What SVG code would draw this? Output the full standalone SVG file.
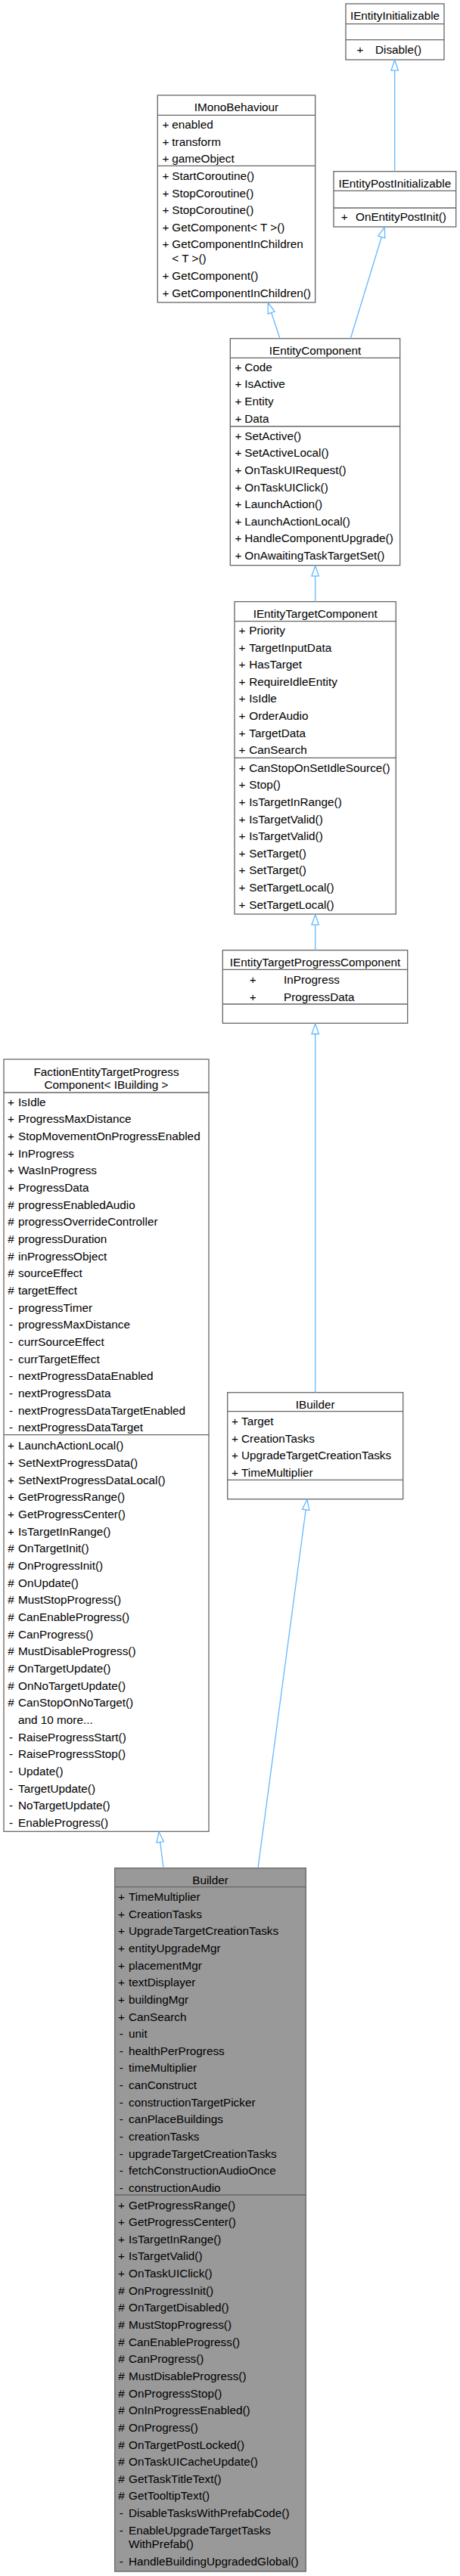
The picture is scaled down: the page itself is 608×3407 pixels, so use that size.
<svg xmlns="http://www.w3.org/2000/svg" width="608" height="3407" viewBox="0 0 608 3407">
<style>
.box{fill:#fff;stroke:#666;stroke-width:1.3}
.hl{fill:#999;stroke:#666;stroke-width:1.3}
.sep{stroke:#666;stroke-width:1.3}
text{font-family:"Liberation Sans",Arial,sans-serif;font-size:15.3px;fill:#000}
.c{text-anchor:middle}
.edge{stroke:#63B8FF;stroke-width:1.3;fill:none;marker-start:url(#inh)}
</style>
<defs>
<marker id="inh" viewBox="-1 -6 16 12" refX="0" refY="0" markerWidth="16" markerHeight="12" markerUnits="userSpaceOnUse" orient="auto" overflow="visible">
<path d="M0,0 L13.7,-4.7 L13.7,4.7 Z" fill="#fff" stroke="#63B8FF" stroke-width="1.3"/>
</marker>
</defs>

<g id="IEntityInitializable">
<rect x="457" y="5" width="130" height="74" class="box"/>
<line x1="457" y1="31.7" x2="587" y2="31.7" class="sep"/>
<line x1="457" y1="52.7" x2="587" y2="52.7" class="sep"/>
<text x="522" y="26" class="c">IEntityInitializable</text>
<text x="476" y="71.3" class="c">+</text><text x="496" y="71.3">Disable()</text>
</g>

<g id="IEntityPostInitializable">
<rect x="441" y="226.7" width="161.7" height="73.3" class="box"/>
<line x1="441" y1="252.3" x2="602.7" y2="252.3" class="sep"/>
<line x1="441" y1="275" x2="602.7" y2="275" class="sep"/>
<text x="521.8" y="247.7" class="c">IEntityPostInitializable</text>
<text x="455.3" y="292" class="c">+</text><text x="470" y="292">OnEntityPostInit()</text>
</g>

<g id="IMonoBehaviour">
<rect x="208.3" y="126" width="208.4" height="274" class="box"/>
<line x1="208.3" y1="152.3" x2="416.7" y2="152.3" class="sep"/>
<line x1="208.3" y1="219.3" x2="416.7" y2="219.3" class="sep"/>
<text x="312.5" y="147.3" class="c">IMonoBehaviour</text>
<text x="219" y="170" class="c">+</text><text x="227.3" y="170">enabled</text>
<text x="219" y="192.6" class="c">+</text><text x="227.3" y="192.6">transform</text>
<text x="219" y="215.2" class="c">+</text><text x="227.3" y="215.2">gameObject</text>
<text x="219" y="238" class="c">+</text><text x="227.3" y="238">StartCoroutine()</text>
<text x="219" y="260.6" class="c">+</text><text x="227.3" y="260.6">StopCoroutine()</text>
<text x="219" y="283.2" class="c">+</text><text x="227.3" y="283.2">StopCoroutine()</text>
<text x="219" y="305.8" class="c">+</text><text x="227.3" y="305.8">GetComponent&lt; T &gt;()</text>
<text x="219" y="328.4" class="c">+</text><text x="227.3" y="328.4">GetComponentInChildren</text>
<text x="227.3" y="347.4">&lt; T &gt;()</text>
<text x="219" y="370" class="c">+</text><text x="227.3" y="370">GetComponent()</text>
<text x="219" y="392.6" class="c">+</text><text x="227.3" y="392.6">GetComponentInChildren()</text>
</g>

<g id="IEntityComponent">
<rect x="304.3" y="447.7" width="224.4" height="300" class="box"/>
<line x1="304.3" y1="473.3" x2="528.7" y2="473.3" class="sep"/>
<line x1="304.3" y1="564" x2="528.7" y2="564" class="sep"/>
<text x="416.5" y="469" class="c">IEntityComponent</text>
<text x="315" y="490.7" class="c">+</text><text x="323.3" y="490.7">Code</text>
<text x="315" y="513.3" class="c">+</text><text x="323.3" y="513.3">IsActive</text>
<text x="315" y="535.9" class="c">+</text><text x="323.3" y="535.9">Entity</text>
<text x="315" y="558.5" class="c">+</text><text x="323.3" y="558.5">Data</text>
<text x="315" y="581.7" class="c">+</text><text x="323.3" y="581.7">SetActive()</text>
<text x="315" y="604.3" class="c">+</text><text x="323.3" y="604.3">SetActiveLocal()</text>
<text x="315" y="626.9" class="c">+</text><text x="323.3" y="626.9">OnTaskUIRequest()</text>
<text x="315" y="649.5" class="c">+</text><text x="323.3" y="649.5">OnTaskUIClick()</text>
<text x="315" y="672.1" class="c">+</text><text x="323.3" y="672.1">LaunchAction()</text>
<text x="315" y="694.7" class="c">+</text><text x="323.3" y="694.7">LaunchActionLocal()</text>
<text x="315" y="717.3" class="c">+</text><text x="323.3" y="717.3">HandleComponentUpgrade()</text>
<text x="315" y="739.9" class="c">+</text><text x="323.3" y="739.9">OnAwaitingTaskTargetSet()</text>
</g>

<g id="IEntityTargetComponent">
<rect x="310" y="795.7" width="213.3" height="413.3" class="box"/>
<line x1="310" y1="821.7" x2="523.3" y2="821.7" class="sep"/>
<line x1="310" y1="1002.3" x2="523.3" y2="1002.3" class="sep"/>
<text x="416.7" y="816.7" class="c">IEntityTargetComponent</text>
<text x="320" y="839" class="c">+</text><text x="329.3" y="839">Priority</text>
<text x="320" y="861.6" class="c">+</text><text x="329.3" y="861.6">TargetInputData</text>
<text x="320" y="884.2" class="c">+</text><text x="329.3" y="884.2">HasTarget</text>
<text x="320" y="906.8" class="c">+</text><text x="329.3" y="906.8">RequireIdleEntity</text>
<text x="320" y="929.4" class="c">+</text><text x="329.3" y="929.4">IsIdle</text>
<text x="320" y="952" class="c">+</text><text x="329.3" y="952">OrderAudio</text>
<text x="320" y="974.6" class="c">+</text><text x="329.3" y="974.6">TargetData</text>
<text x="320" y="997.2" class="c">+</text><text x="329.3" y="997.2">CanSearch</text>
<text x="320" y="1020.7" class="c">+</text><text x="329.3" y="1020.7">CanStopOnSetIdleSource()</text>
<text x="320" y="1043.3" class="c">+</text><text x="329.3" y="1043.3">Stop()</text>
<text x="320" y="1065.9" class="c">+</text><text x="329.3" y="1065.9">IsTargetInRange()</text>
<text x="320" y="1088.5" class="c">+</text><text x="329.3" y="1088.5">IsTargetValid()</text>
<text x="320" y="1111.1" class="c">+</text><text x="329.3" y="1111.1">IsTargetValid()</text>
<text x="320" y="1133.7" class="c">+</text><text x="329.3" y="1133.7">SetTarget()</text>
<text x="320" y="1156.3" class="c">+</text><text x="329.3" y="1156.3">SetTarget()</text>
<text x="320" y="1178.9" class="c">+</text><text x="329.3" y="1178.9">SetTargetLocal()</text>
<text x="320" y="1201.5" class="c">+</text><text x="329.3" y="1201.5">SetTargetLocal()</text>
</g>

<g id="IEntityTargetProgressComponent">
<rect x="294.3" y="1256.7" width="244.4" height="96.6" class="box"/>
<line x1="294.3" y1="1282.3" x2="538.7" y2="1282.3" class="sep"/>
<line x1="294.3" y1="1328" x2="538.7" y2="1328" class="sep"/>
<text x="416.5" y="1277.7" class="c">IEntityTargetProgressComponent</text>
<text x="334.3" y="1301" class="c">+</text><text x="375" y="1301">InProgress</text>
<text x="334.3" y="1323.6" class="c">+</text><text x="375" y="1323.6">ProgressData</text>
</g>

<g id="FactionEntityTargetProgressComponent">
<rect x="5" y="1401" width="271" height="1021.3" class="box"/>
<line x1="5" y1="1445" x2="276" y2="1445" class="sep"/>
<line x1="5" y1="1897.7" x2="276" y2="1897.7" class="sep"/>
<text x="140.5" y="1422.5" class="c">FactionEntityTargetProgress</text>
<text x="140.5" y="1439.5" class="c">Component&lt; IBuilding &gt;</text>
<text x="14.5" y="1462.7" class="c">+</text><text x="24" y="1462.7">IsIdle</text>
<text x="14.5" y="1485.4" class="c">+</text><text x="24" y="1485.4">ProgressMaxDistance</text>
<text x="14.5" y="1508" class="c">+</text><text x="24" y="1508">StopMovementOnProgressEnabled</text>
<text x="14.5" y="1530.7" class="c">+</text><text x="24" y="1530.7">InProgress</text>
<text x="14.5" y="1553.4" class="c">+</text><text x="24" y="1553.4">WasInProgress</text>
<text x="14.5" y="1576.1" class="c">+</text><text x="24" y="1576.1">ProgressData</text>
<text x="14.5" y="1598.7" class="c">#</text><text x="24" y="1598.7">progressEnabledAudio</text>
<text x="14.5" y="1621.4" class="c">#</text><text x="24" y="1621.4">progressOverrideController</text>
<text x="14.5" y="1644.1" class="c">#</text><text x="24" y="1644.1">progressDuration</text>
<text x="14.5" y="1666.7" class="c">#</text><text x="24" y="1666.7">inProgressObject</text>
<text x="14.5" y="1689.4" class="c">#</text><text x="24" y="1689.4">sourceEffect</text>
<text x="14.5" y="1712.1" class="c">#</text><text x="24" y="1712.1">targetEffect</text>
<text x="14.5" y="1734.7" class="c">-</text><text x="24" y="1734.7">progressTimer</text>
<text x="14.5" y="1757.4" class="c">-</text><text x="24" y="1757.4">progressMaxDistance</text>
<text x="14.5" y="1780.1" class="c">-</text><text x="24" y="1780.1">currSourceEffect</text>
<text x="14.5" y="1802.8" class="c">-</text><text x="24" y="1802.8">currTargetEffect</text>
<text x="14.5" y="1825.4" class="c">-</text><text x="24" y="1825.4">nextProgressDataEnabled</text>
<text x="14.5" y="1848.1" class="c">-</text><text x="24" y="1848.1">nextProgressData</text>
<text x="14.5" y="1870.8" class="c">-</text><text x="24" y="1870.8">nextProgressDataTargetEnabled</text>
<text x="14.5" y="1893.4" class="c">-</text><text x="24" y="1893.4">nextProgressDataTarget</text>
<text x="14.5" y="1917.3" class="c">+</text><text x="24" y="1917.3">LaunchActionLocal()</text>
<text x="14.5" y="1940" class="c">+</text><text x="24" y="1940">SetNextProgressData()</text>
<text x="14.5" y="1962.6" class="c">+</text><text x="24" y="1962.6">SetNextProgressDataLocal()</text>
<text x="14.5" y="1985.3" class="c">+</text><text x="24" y="1985.3">GetProgressRange()</text>
<text x="14.5" y="2008" class="c">+</text><text x="24" y="2008">GetProgressCenter()</text>
<text x="14.5" y="2030.7" class="c">+</text><text x="24" y="2030.7">IsTargetInRange()</text>
<text x="14.5" y="2053.3" class="c">#</text><text x="24" y="2053.3">OnTargetInit()</text>
<text x="14.5" y="2076" class="c">#</text><text x="24" y="2076">OnProgressInit()</text>
<text x="14.5" y="2098.7" class="c">#</text><text x="24" y="2098.7">OnUpdate()</text>
<text x="14.5" y="2121.3" class="c">#</text><text x="24" y="2121.3">MustStopProgress()</text>
<text x="14.5" y="2144" class="c">#</text><text x="24" y="2144">CanEnableProgress()</text>
<text x="14.5" y="2166.7" class="c">#</text><text x="24" y="2166.7">CanProgress()</text>
<text x="14.5" y="2189.3" class="c">#</text><text x="24" y="2189.3">MustDisableProgress()</text>
<text x="14.5" y="2212" class="c">#</text><text x="24" y="2212">OnTargetUpdate()</text>
<text x="14.5" y="2234.7" class="c">#</text><text x="24" y="2234.7">OnNoTargetUpdate()</text>
<text x="14.5" y="2257.4" class="c">#</text><text x="24" y="2257.4">CanStopOnNoTarget()</text>
<text x="24" y="2280">and 10 more...</text>
<text x="14.5" y="2302.7" class="c">-</text><text x="24" y="2302.7">RaiseProgressStart()</text>
<text x="14.5" y="2325.4" class="c">-</text><text x="24" y="2325.4">RaiseProgressStop()</text>
<text x="14.5" y="2348" class="c">-</text><text x="24" y="2348">Update()</text>
<text x="14.5" y="2370.7" class="c">-</text><text x="24" y="2370.7">TargetUpdate()</text>
<text x="14.5" y="2393.4" class="c">-</text><text x="24" y="2393.4">NoTargetUpdate()</text>
<text x="14.5" y="2416" class="c">-</text><text x="24" y="2416">EnableProgress()</text>
</g>

<g id="IBuilder">
<rect x="300.7" y="1841.7" width="232" height="141" class="box"/>
<line x1="300.7" y1="1866.7" x2="532.7" y2="1866.7" class="sep"/>
<line x1="300.7" y1="1957.3" x2="532.7" y2="1957.3" class="sep"/>
<text x="416.7" y="1862.5" class="c">IBuilder</text>
<text x="310.5" y="1885" class="c">+</text><text x="319" y="1885">Target</text>
<text x="310.5" y="1907.6" class="c">+</text><text x="319" y="1907.6">CreationTasks</text>
<text x="310.5" y="1930.2" class="c">+</text><text x="319" y="1930.2">UpgradeTargetCreationTasks</text>
<text x="310.5" y="1952.8" class="c">+</text><text x="319" y="1952.8">TimeMultiplier</text>
</g>

<g id="Builder">
<rect x="151.7" y="2470.7" width="252.6" height="930.3" class="hl"/>
<line x1="151.7" y1="2495.7" x2="404.3" y2="2495.7" class="sep"/>
<line x1="151.7" y1="2903" x2="404.3" y2="2903" class="sep"/>
<text x="278" y="2491.5" class="c">Builder</text>
<text x="160.4" y="2514" class="c">+</text><text x="170" y="2514">TimeMultiplier</text>
<text x="160.4" y="2536.6" class="c">+</text><text x="170" y="2536.6">CreationTasks</text>
<text x="160.4" y="2559.3" class="c">+</text><text x="170" y="2559.3">UpgradeTargetCreationTasks</text>
<text x="160.4" y="2581.9" class="c">+</text><text x="170" y="2581.9">entityUpgradeMgr</text>
<text x="160.4" y="2604.6" class="c">+</text><text x="170" y="2604.6">placementMgr</text>
<text x="160.4" y="2627.2" class="c">+</text><text x="170" y="2627.2">textDisplayer</text>
<text x="160.4" y="2649.8" class="c">+</text><text x="170" y="2649.8">buildingMgr</text>
<text x="160.4" y="2672.5" class="c">+</text><text x="170" y="2672.5">CanSearch</text>
<text x="160.4" y="2695.1" class="c">-</text><text x="170" y="2695.1">unit</text>
<text x="160.4" y="2717.8" class="c">-</text><text x="170" y="2717.8">healthPerProgress</text>
<text x="160.4" y="2740.4" class="c">-</text><text x="170" y="2740.4">timeMultiplier</text>
<text x="160.4" y="2763" class="c">-</text><text x="170" y="2763">canConstruct</text>
<text x="160.4" y="2785.7" class="c">-</text><text x="170" y="2785.7">constructionTargetPicker</text>
<text x="160.4" y="2808.3" class="c">-</text><text x="170" y="2808.3">canPlaceBuildings</text>
<text x="160.4" y="2831" class="c">-</text><text x="170" y="2831">creationTasks</text>
<text x="160.4" y="2853.6" class="c">-</text><text x="170" y="2853.6">upgradeTargetCreationTasks</text>
<text x="160.4" y="2876.2" class="c">-</text><text x="170" y="2876.2">fetchConstructionAudioOnce</text>
<text x="160.4" y="2898.9" class="c">-</text><text x="170" y="2898.9">constructionAudio</text>
<text x="160.4" y="2921.5" class="c">+</text><text x="170" y="2921.5">GetProgressRange()</text>
<text x="160.4" y="2944.1" class="c">+</text><text x="170" y="2944.1">GetProgressCenter()</text>
<text x="160.4" y="2966.8" class="c">+</text><text x="170" y="2966.8">IsTargetInRange()</text>
<text x="160.4" y="2989.4" class="c">+</text><text x="170" y="2989.4">IsTargetValid()</text>
<text x="160.4" y="3012.1" class="c">+</text><text x="170" y="3012.1">OnTaskUIClick()</text>
<text x="160.4" y="3034.7" class="c">#</text><text x="170" y="3034.7">OnProgressInit()</text>
<text x="160.4" y="3057.3" class="c">#</text><text x="170" y="3057.3">OnTargetDisabled()</text>
<text x="160.4" y="3080" class="c">#</text><text x="170" y="3080">MustStopProgress()</text>
<text x="160.4" y="3102.6" class="c">#</text><text x="170" y="3102.6">CanEnableProgress()</text>
<text x="160.4" y="3125.3" class="c">#</text><text x="170" y="3125.3">CanProgress()</text>
<text x="160.4" y="3147.9" class="c">#</text><text x="170" y="3147.9">MustDisableProgress()</text>
<text x="160.4" y="3170.5" class="c">#</text><text x="170" y="3170.5">OnProgressStop()</text>
<text x="160.4" y="3193.2" class="c">#</text><text x="170" y="3193.2">OnInProgressEnabled()</text>
<text x="160.4" y="3215.8" class="c">#</text><text x="170" y="3215.8">OnProgress()</text>
<text x="160.4" y="3238.5" class="c">#</text><text x="170" y="3238.5">OnTargetPostLocked()</text>
<text x="160.4" y="3261.1" class="c">#</text><text x="170" y="3261.1">OnTaskUICacheUpdate()</text>
<text x="160.4" y="3283.7" class="c">#</text><text x="170" y="3283.7">GetTaskTitleText()</text>
<text x="160.4" y="3306.4" class="c">#</text><text x="170" y="3306.4">GetTooltipText()</text>
<text x="160.4" y="3329" class="c">-</text><text x="170" y="3329">DisableTasksWithPrefabCode()</text>
<text x="160.4" y="3351.7" class="c">-</text><text x="170" y="3351.7">EnableUpgradeTargetTasks</text>
<text x="170" y="3370.2">WithPrefab()</text>
<text x="160.4" y="3392.8" class="c">-</text><text x="170" y="3392.8">HandleBuildingUpgradedGlobal()</text>
</g>

<g id="connectors">
<path class="edge" d="M521.7,79.5 L521.7,226.7"/>
<path class="edge" d="M354.3,400.5 L370,447.7"/>
<path class="edge" d="M508.3,300.5 L463.3,447.7"/>
<path class="edge" d="M416.7,748.2 L416.7,795.7"/>
<path class="edge" d="M416.7,1209.5 L416.7,1256.7"/>
<path class="edge" d="M416.7,1353.8 L416.7,1841.7"/>
<path class="edge" d="M210,2422.8 L216,2470.7"/>
<path class="edge" d="M406,1983.2 L341,2470.7"/>
</g>
</svg>
